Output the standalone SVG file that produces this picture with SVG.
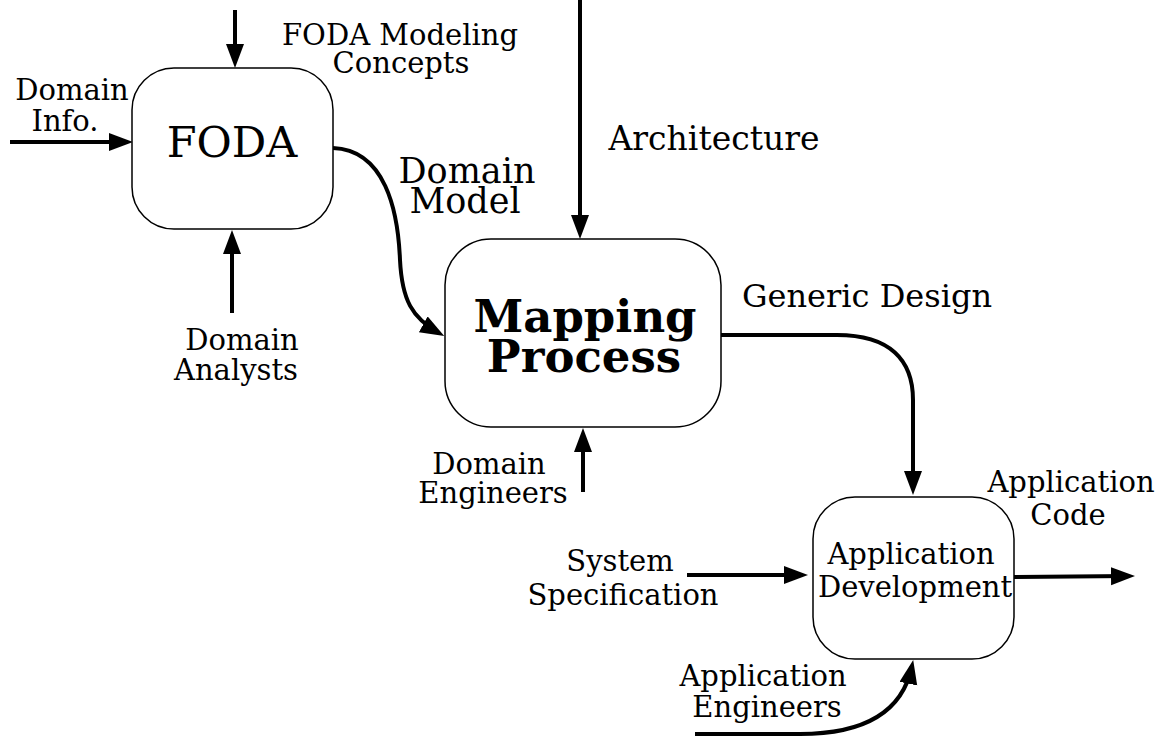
<svg xmlns="http://www.w3.org/2000/svg" width="1164" height="736" viewBox="0 0 1164 736">
<defs>
<marker id="ah" markerUnits="userSpaceOnUse" markerWidth="26" markerHeight="20" refX="18" refY="9" orient="auto">
<path d="M0,0 L24,9 L0,18 z" fill="#000"/>
</marker>
<style>
.box{fill:#fff;stroke:#000;stroke-width:1.5}
.c{fill:none;stroke:#000;stroke-width:4;marker-end:url(#ah)}
text{font-family:"DejaVu Serif","Liberation Serif",serif;fill:#000;text-anchor:middle}
.s{font-size:29px}
.m{font-size:33px}
.l{font-size:35px}
.b{font-size:45px;font-weight:bold}
</style>
</defs>
<rect width="1164" height="736" fill="#fff"/>
<g id="connectors">
<path class="c" d="M235 10 L235 62"/>
<path class="c" d="M10 142 L127 142"/>
<path class="c" d="M232 313 L232 236"/>
<path class="c" d="M333 148 C385 150 398 210 400 260 C402 300 412 318 439 333"/>
<path class="c" d="M580 0 L580 233"/>
<path class="c" d="M583 492 L583 434"/>
<path class="c" d="M721 335 L837 335 C890 335 913 360 913 400 L913 489"/>
<path class="c" d="M687 575 L802 575"/>
<path class="c" d="M1014 577 L1129 576"/>
<path class="c" d="M695 734 L800 734 C880 734 905 700 912 666"/>
</g>
<g id="foda">
<rect class="box" x="132" y="68" width="201" height="161" rx="42"/>
<text x="232" y="157" style="font-size:43px">FODA</text>
</g>
<g id="mapping">
<rect class="box" x="445" y="239" width="276" height="188" rx="46"/>
<text class="b" x="585" y="332">Mapping</text>
<text class="b" x="584" y="372">Process</text>
</g>
<g id="appdev">
<rect class="box" x="813" y="497" width="201" height="162" rx="42"/>
<text class="s" x="911" y="564">Application</text>
<text class="s" x="915" y="597">Development</text>
</g>
<g id="labels">
<text class="s" x="72" y="100">Domain</text>
<text class="s" x="65" y="131">Info.</text>
<text class="s" x="400" y="45">FODA Modeling</text>
<text class="s" x="401" y="73">Concepts</text>
<text class="s" x="242" y="350">Domain</text>
<text class="s" x="236" y="380">Analysts</text>
<text class="l" x="467" y="183">Domain</text>
<text class="l" x="465" y="213">Model</text>
<text class="m" x="714" y="150">Architecture</text>
<text x="742" y="307" style="text-anchor:start;font-size:32px">Generic Design</text>
<text class="s" x="489" y="474">Domain</text>
<text class="s" x="493" y="503">Engineers</text>
<text class="s" x="620" y="571">System</text>
<text class="s" x="623" y="605">Specification</text>
<text class="s" x="763" y="686">Application</text>
<text class="s" x="767" y="717">Engineers</text>
<text class="s" x="1071" y="492">Application</text>
<text class="s" x="1068" y="525">Code</text>
</g>
</svg>
